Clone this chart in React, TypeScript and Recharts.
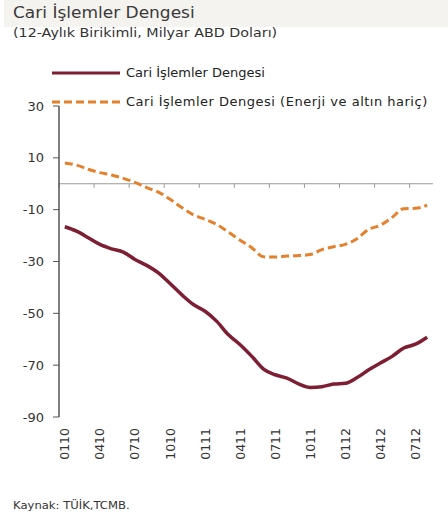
import React from 'react';
import { LineChart, Line, XAxis, YAxis, ReferenceLine, Legend } from 'recharts';

const months = [
  '0110','0210','0310','0410','0510','0610','0710','0810','0910','1010','1110','1210',
  '0111','0211','0311','0411','0511','0611','0711','0811','0911','1011','1111','1211',
  '0112','0212','0312','0412','0512','0612','0712','0812',
];
const cariIslemler = [
  -16.6, -18.3, -20.8, -23.4, -25.1, -26.4, -29.2, -31.5, -34.4, -38.5, -42.8, -46.6,
  -49.2, -53.1, -58.3, -62.1, -66.6, -71.5, -73.7, -75.0, -77.2, -78.6, -78.3, -77.3,
  -77.0, -74.8, -71.8, -69.2, -66.6, -63.4, -61.9, -59.2,
];
const enerjiAltinHaric = [
  8.0, 7.2, 5.6, 4.3, 3.4, 2.1, 0.5, -1.5, -3.2, -6.0, -9.2, -12.0,
  -13.7, -15.7, -18.7, -21.8, -24.7, -28.2, -28.3, -27.9, -27.7, -27.3, -25.4, -24.3,
  -23.4, -21.2, -17.6, -16.0, -13.0, -9.6, -9.5, -8.3,
];
const tickLabels = ['0110','0410','0710','1010','0111','0411','0711','1011','0112','0412','0712'];
const yTicks = [-90, -70, -50, -30, -10, 10, 30];
const seriesNames = ['Cari İşlemler Dengesi', 'Cari İşlemler Dengesi (Enerji ve altın hariç)'];

const data = months.map((m, i) => ({
  x: i + 0.5,
  month: m,
  cari: cariIslemler[i],
  haric: enerjiAltinHaric[i],
}));

const boundaryTicks = tickLabels.map((_, k) => k * 3);
const labelTicks = tickLabels.map((_, k) => k * 3 + 0.5);

const FONT = '"DejaVu Sans", Arial, sans-serif';
const MAROON = '#7d1e33';
const ORANGE = '#e5802c';

const XTick = (props: any) => {
  const { x, y, payload } = props;
  const idx = Math.round((payload.value - 0.5) / 3);
  const label = tickLabels[idx] ?? '';
  return (
    <text
      x={x}
      y={y + 11}
      transform={`rotate(-90, ${x}, ${y + 11})`}
      textAnchor="end"
      dominantBaseline="central"
      fontFamily={FONT}
      fontSize={12.5}
      fill="#333"
    >
      {label}
    </text>
  );
};

const LegendContent = (props: any) => {
  const { payload } = props;
  return (
    <div style={{ fontFamily: FONT, fontSize: 13, color: '#222' }}>
      {(payload || []).map((p: any, i: number) => (
        <div key={i} style={{ display: 'flex', alignItems: 'center', height: 29 }}>
          <svg width={70} height={6} style={{ marginRight: 4 }}>
            <line
              x1={0}
              y1={3}
              x2={68}
              y2={3}
              stroke={p.color}
              strokeWidth={3}
              strokeDasharray={p.payload?.strokeDasharray}
            />
          </svg>
          <span style={{ letterSpacing: i === 1 ? 0.5 : 0 }}>{p.value}</span>
        </div>
      ))}
    </div>
  );
};

export default function App() {
  return (
    <div style={{ position: 'absolute', left: 0, top: 0, width: 448, height: 519, background: '#fff' }}>
      <div
        style={{
          position: 'absolute', left: 4, top: 0, width: 444, height: 27,
          background: '#f4f3ef',
        }}
      />
      <div
        style={{
          position: 'absolute', left: 13, top: 3, fontFamily: FONT, fontSize: 16.5,
          color: '#3a3a3a', whiteSpace: 'nowrap', transform: 'scaleX(1.03)', transformOrigin: 'left',
        }}
      >
        Cari İşlemler Dengesi
      </div>
      <div
        style={{
          position: 'absolute', left: 13, top: 26, fontFamily: FONT, fontSize: 12,
          color: '#333', whiteSpace: 'nowrap', transform: 'scaleX(1.19)', transformOrigin: 'left',
        }}
      >
        (12-Aylık Birikimli, Milyar ABD Doları)
      </div>
      <div
        style={{
          position: 'absolute', left: 13, top: 500, fontFamily: FONT, fontSize: 10,
          color: '#333', whiteSpace: 'nowrap', transform: 'scaleX(1.16)', transformOrigin: 'left',
        }}
      >
        Kaynak: TÜİK,TCMB.
      </div>
      <div style={{ position: 'absolute', left: 0, top: 0 }}>
        <LineChart
          width={448}
          height={519}
          data={data}
          margin={{ top: 106, right: 15, bottom: 0, left: 0 }}
        >
          <XAxis
            dataKey="x"
            type="number"
            domain={[0, 32]}
            ticks={labelTicks}
            interval={0}
            axisLine={false}
            tickLine={false}
            tickSize={0}
            tickMargin={0}
            height={102}
            tick={<XTick />}
          />
          <YAxis
            type="number"
            domain={[-90, 30]}
            ticks={yTicks}
            interval={0}
            width={59}
            axisLine={{ stroke: '#555', strokeWidth: 1.5 }}
            tickLine={{ stroke: '#555' }}
            tickSize={6}
            tickMargin={9}
            tick={{ fontFamily: FONT, fontSize: 13, fill: '#333' }}
          />
          <ReferenceLine y={0} stroke="#9a9a9a" strokeWidth={1.2} />
          {boundaryTicks.map((t) => (
            <ReferenceLine
              key={t}
              segment={[{ x: t, y: 0 }, { x: t, y: -1.6 }]}
              stroke="#9a9a9a"
              strokeWidth={1}
            />
          ))}
          <Legend
            layout="vertical"
            align="center"
            verticalAlign="middle"
            wrapperStyle={{ position: 'absolute', top: 58, left: 52, width: 390 }}
            content={<LegendContent />}
          />
          <Line
            type="monotone"
            dataKey="haric"
            name={seriesNames[1]}
            stroke={ORANGE}
            strokeWidth={3}
            strokeDasharray="8 4"
            dot={false}
            isAnimationActive={false}
            legendType="line"
          />
          <Line
            type="monotone"
            dataKey="cari"
            name={seriesNames[0]}
            stroke={MAROON}
            strokeWidth={3.5}
            dot={false}
            isAnimationActive={false}
            legendType="line"
          />
        </LineChart>
      </div>
    </div>
  );
}
